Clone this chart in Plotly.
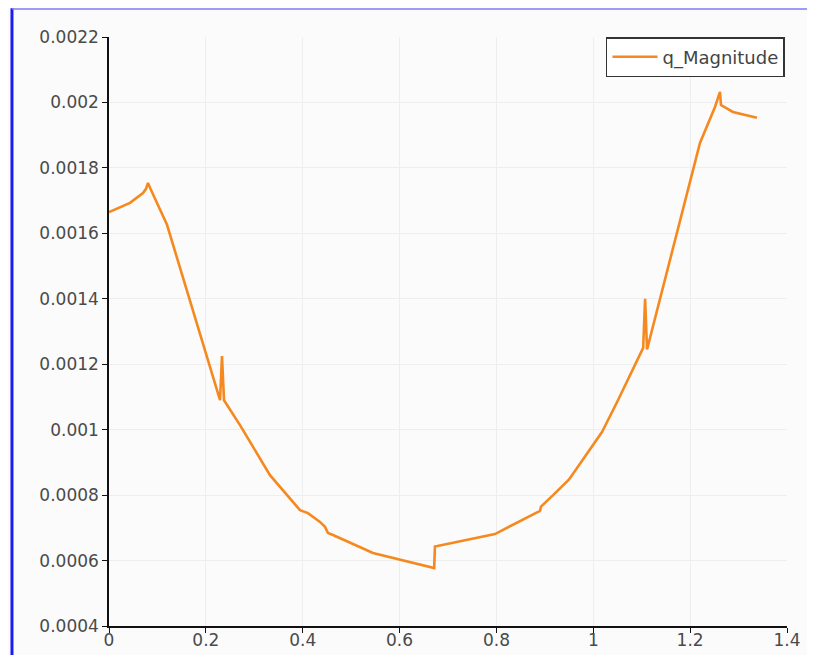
import plotly.graph_objects as go

x_vals = [0.0, 0.0434, 0.0702, 0.0764, 0.0805, 0.0847, 0.1198, 0.2293, 0.2333, 0.2375,
          0.2705, 0.3324, 0.3944, 0.4109, 0.4357, 0.446, 0.4522, 0.4625, 0.5451, 0.5947,
          0.667, 0.6715, 0.673, 0.797, 0.89, 0.892, 0.917, 0.946, 0.95, 1.018, 1.051,
          1.103, 1.107, 1.111, 1.2203, 1.2513, 1.2616, 1.2637, 1.2884, 1.338]
q_magnitude = [0.001665, 0.001693, 0.001723, 0.001736, 0.001754, 0.001739, 0.001626,
               0.00109, 0.001225, 0.00109, 0.001014, 0.000861, 0.000754, 0.000745,
               0.000718, 0.000703, 0.000684, 0.000678, 0.000623, 0.000605, 0.000577,
               0.000577, 0.000643, 0.000681, 0.000752, 0.000765, 0.0008, 0.000843,
               0.000848, 0.000993, 0.00109, 0.00125, 0.0014, 0.001245, 0.001876,
               0.001986, 0.002032, 0.001992, 0.001971, 0.001953]

x_ticks = [0, 0.2, 0.4, 0.6, 0.8, 1, 1.2, 1.4]
x_tick_labels = ["0", "0.2", "0.4", "0.6", "0.8", "1", "1.2", "1.4"]
y_ticks = [0.0004, 0.0006, 0.0008, 0.001, 0.0012, 0.0014, 0.0016, 0.0018, 0.002, 0.0022]
y_tick_labels = ["0.0004", "0.0006", "0.0008", "0.001", "0.0012", "0.0014", "0.0016",
                 "0.0018", "0.002", "0.0022"]

fig = go.Figure()
fig.add_trace(go.Scatter(x=x_vals, y=q_magnitude, mode="lines", name="q_Magnitude",
                         line=dict(color="#f5891f", width=2.6)))

tick_font = dict(family="DejaVu Sans", size=17, color="#4a4a4a")
fig.update_layout(
    width=807, height=647,
    margin=dict(l=101, r=28, t=29, b=29, autoexpand=False),
    paper_bgcolor="#fbfbfb", plot_bgcolor="#fbfbfb",
    font=tick_font,
    showlegend=True,
    legend=dict(x=0.997, y=1.0, xanchor="right", yanchor="top",
                bgcolor="#ffffff", bordercolor="#333333", borderwidth=1.5,
                itemwidth=45,
                font=dict(family="DejaVu Sans", size=18, color="#444444")),
    xaxis=dict(range=[0, 1.4], tickvals=x_ticks, ticktext=x_tick_labels,
               automargin=False,
               showline=True, linecolor="#111111", linewidth=1.5,
               ticks="outside", ticklen=5, tickcolor="#111111",
               ticklabelstandoff=-7,
               tickfont=tick_font,
               showgrid=True, gridcolor="#eeeeee", zeroline=False),
    yaxis=dict(range=[0.0004, 0.0022], tickvals=y_ticks, ticktext=y_tick_labels,
               automargin=False,
               showline=True, linecolor="#111111", linewidth=1.5,
               ticks="outside", ticklen=5, tickcolor="#111111",
               tickfont=tick_font,
               showgrid=True, gridcolor="#eeeeee", zeroline=False),
    shapes=[
        dict(type="line", xref="paper", yref="paper", x0=-0.1431, x1=-0.1431,
             y0=-0.06, y1=1.049, line=dict(color="#1c1cf0", width=3)),
        dict(type="line", xref="paper", yref="paper", x0=-0.1431, x1=1.05,
             y0=1.0475, y1=1.0475, line=dict(color="#7d7df5", width=1.5)),
    ],
)

fig.write_html("out.html")
